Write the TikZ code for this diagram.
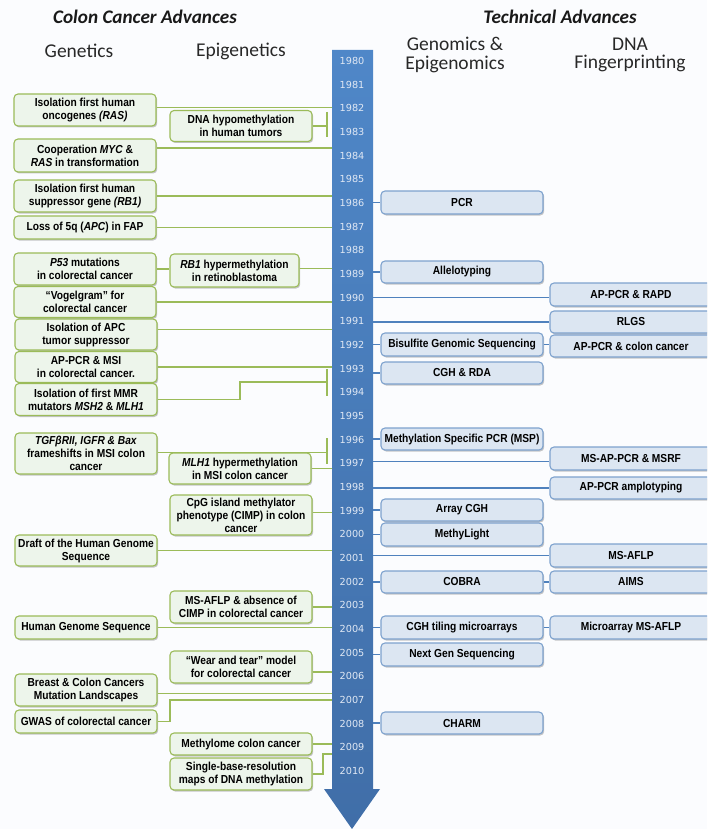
\documentclass[tikz,border=0pt]{standalone}
\usepackage{fontspec}
\usetikzlibrary{shadows}
\newfontfamily\boxfont{Liberation Sans}[FakeStretch=0.88,Ligatures=TeX]
\newfontfamily\hdfont{Carlito}[Ligatures=TeX]
\newfontfamily\yrfont{DejaVu Sans}
\definecolor{bg}{RGB}{251,252,254}
\definecolor{gborder}{RGB}{155,187,89}
\definecolor{gfill}{RGB}{237,245,235}
\definecolor{bborder}{RGB}{126,162,206}
\definecolor{bfill}{RGB}{220,230,242}
\definecolor{blin}{RGB}{79,129,189}
\definecolor{arrtop}{RGB}{79,135,200}
\definecolor{arrbot}{RGB}{64,110,168}
\definecolor{yrcol}{RGB}{224,232,244}
\definecolor{hdcol}{RGB}{25,25,25}
\definecolor{subcol}{RGB}{40,40,40}
\begin{document}
\begin{tikzpicture}[x=1pt,y=-1pt,
  box/.style={rounded corners=4pt, line width=1.1pt, align=center, inner xsep=1pt, inner ysep=0pt,
    font={\boxfont\bfseries\fontsize{11.6}{13}\selectfont}, text=black,
    drop shadow={shadow xshift=1.2pt, shadow yshift=-1.5pt, fill=black, opacity=0.22}},
  gbox/.style={box, draw=gborder, fill=gfill},
  bbox/.style={box, draw=bborder, fill=bfill},
  gcol/.style={gbox, minimum width=142pt},
  ecol/.style={gbox, minimum width=142pt},
  ncol/.style={bbox, minimum width=162pt},
  fcol/.style={bbox, minimum width=162pt},
  gline/.style={draw=gborder, line width=1.3pt},
  bline/.style={draw=blin, line width=1.3pt},
  yr/.style={font={\yrfont\fontsize{9.7}{11}\selectfont}, text=yrcol, inner sep=0pt},
  hd/.style={font={\hdfont\bfseries\itshape\fontsize{19.2}{20}\selectfont}, text=hdcol, inner sep=0pt},
  sub/.style={font={\hdfont\fontsize{19.5}{18.5}\selectfont}, text=subcol, align=center, inner sep=0pt}
]
\useasboundingbox (0,0) rectangle (707,829);
\clip (0,0) rectangle (707,829);
\fill[bg] (0,0) rectangle (707,829);

% headers
\node[hd] (h1) at (145,17) {Colon Cancer Advances};
\node[hd] (h2) at (560,17) {Technical Advances};
\node[sub] (s1) at (79,51) {Genetics};
\node[sub] (s2) at (241,51) {Epigenetics};
\node[sub] (s3) at (455,55) {Genomics \&\\Epigenomics};
\node[sub] (s4) at (630,55) {DNA\\Fingerprinting};

% arrow
\shade[top color=arrtop, bottom color=arrbot] (332,50) -- (373,50) -- (373,789) -- (380,789) -- (352,829) -- (324,789) -- (332,789) -- cycle;
\coordinate (AL) at (332,0);
\coordinate (AR) at (373,0);
\foreach \k in {0,...,30} {
  \pgfmathsetmacro\yy{61+23.67*\k}
  \pgfmathtruncatemacro\yv{1980+\k}
  \node[yr] (y\yv) at (352,\yy) {\yv};
}

% bracket coordinates
\coordinate (t1a) at (327,112); \coordinate (t1b) at (327,137);
\coordinate (t2a) at (327,369); \coordinate (t2b) at (327,396);
\coordinate (t3a) at (327,438); \coordinate (t3b) at (327,464);
\coordinate (k1) at (240,382);
\coordinate (k2) at (170,700);
\coordinate (k3) at (323,754);

% genetics boxes
\node[gcol, minimum height=32pt] (g1) at (85,110) {Isolation first human\\oncogenes \textit{(RAS)}};
\node[gcol, minimum height=33pt] (g2) at (85,155.5) {Cooperation \textit{MYC} \&\\\textit{RAS} in transformation};
\node[gcol, minimum height=32pt] (g3) at (85,196) {Isolation first human\\suppressor gene \textit{(RB1)}};
\node[gcol, minimum height=23pt] (g4) at (85,227.5) {Loss of 5q (\textit{APC}) in FAP};
\node[gcol, minimum height=32pt] (g5) at (85,269) {\textit{P53} mutations\\in colorectal cancer};
\node[gcol, minimum height=31pt] (g6) at (85,302) {“Vogelgram” for\\colorectal cancer};
\node[gcol, minimum height=31pt] (g7) at (86,334.5) {Isolation of APC\\tumor suppressor};
\node[gcol, minimum height=31pt] (g8) at (86,367) {AP-PCR \& MSI\\in colorectal cancer.};
\node[gcol, minimum height=32pt] (g9) at (86,399.5) {Isolation of first MMR\\mutators \textit{MSH2} \& \textit{MLH1}};
\node[gcol, minimum height=41pt] (g10) at (86,453.5) {\textit{TGFβRII, IGFR \& Bax}\\frameshifts in MSI colon\\cancer};
\node[gcol, minimum height=31pt] (g11) at (86,550.5) {Draft of the Human Genome\\Sequence};
\node[gcol, minimum height=23pt] (g12) at (86,627.5) {Human Genome Sequence};
\node[gcol, minimum height=32pt] (g13) at (86,690) {Breast \& Colon Cancers\\Mutation Landscapes};
\node[gcol, minimum height=23pt] (g14) at (86,721.5) {GWAS of colorectal cancer};

% epigenetics boxes
\node[ecol, minimum height=31pt] (e1) at (241,126) {DNA hypomethylation\\in human tumors};
\node[gbox, minimum width=129pt, minimum height=33pt] (e2) at (234.5,270.5) {\textit{RB1} hypermethylation\\in retinoblastoma};
\node[ecol, minimum height=31pt] (e3) at (240,468.5) {\textit{MLH1} hypermethylation\\in MSI colon cancer};
\node[ecol, minimum height=40pt] (e4) at (241,515) {CpG island methylator\\phenotype (CIMP) in colon\\cancer};
\node[ecol, minimum height=32pt] (e5) at (241,607) {MS-AFLP \& absence of\\CIMP in colorectal cancer};
\node[ecol, minimum height=32pt] (e6) at (241,667) {“Wear and tear” model\\for colorectal cancer};
\node[ecol, minimum height=22pt] (e7) at (241,744) {Methylome colon cancer};
\node[ecol, minimum height=32pt] (e8) at (241,774) {Single-base-resolution\\maps of DNA methylation};

% genomics boxes
\node[ncol, minimum height=23pt] (b1) at (462,202.5) {PCR};
\node[ncol, minimum height=22pt] (b2) at (462,272) {Allelotyping};
\node[ncol, minimum height=23pt] (b3) at (462,344.5) {Bisulfite Genomic Sequencing};
\node[ncol, minimum height=22pt] (b4) at (462,373) {CGH \& RDA};
\node[ncol, minimum height=22pt] (b5) at (462,439) {Methylation Specific PCR (MSP)};
\node[ncol, minimum height=22pt] (b6) at (462,510) {Array CGH};
\node[ncol, minimum height=23pt] (b7) at (462,534.5) {MethyLight};
\node[ncol, minimum height=22pt] (b8) at (462,582) {COBRA};
\node[ncol, minimum height=23pt] (b9) at (462,627.5) {CGH tiling microarrays};
\node[ncol, minimum height=23pt] (b10) at (462,654.5) {Next Gen Sequencing};
\node[ncol, minimum height=22pt] (b11) at (462,723) {CHARM};

% DNA fingerprinting boxes
\node[fcol, minimum height=23pt] (d1) at (631,294.5) {AP-PCR \& RAPD};
\node[fcol, minimum height=22pt] (d2) at (631,322) {RLGS};
\node[fcol, minimum height=22pt] (d3) at (631,346) {AP-PCR \& colon cancer};
\node[fcol, minimum height=23pt] (d4) at (631,458.5) {MS-AP-PCR \& MSRF};
\node[fcol, minimum height=22pt] (d5) at (631,488) {AP-PCR amplotyping};
\node[fcol, minimum height=23pt] (d6) at (631,555.5) {MS-AFLP};
\node[fcol, minimum height=22pt] (d7) at (631,582) {AIMS};
\node[fcol, minimum height=23pt] (d8) at (631,627.5) {Microarray MS-AFLP};

% green connectors
\draw[gline] (g1.2) -- (g1.2 -| AL);
\draw[gline] (g2.6) -- (g2.6 -| AL);
\draw[gline] (e1.east) -- (e1.east -| t1a);
\draw[gline] (t1a) -- (t1b);
\draw[gline] (g3.east) -- (g3.east -| AL);
\draw[gline] (g4.east) -- (g4.east -| AL);
\draw[gline] (g5.east) -- (g5.east -| e2.west);
\draw[gline] (e2.2) -- (e2.2 -| AL);
\draw[gline] (g6.east) -- (g6.east -| AL);
\draw[gline] (g7.4) -- (g7.4 -| AL);
\draw[gline] (g8.east) -- (g8.east -| AL);
\draw[gline] (g9.east) -| (k1) -- (k1 -| t2a);
\draw[gline] (t2a) -- (t2b);
\draw[gline] (g10.1) -- (g10.1 -| t3a);
\draw[gline] (t3a) -- (t3b);
\draw[gline] (e3.east) -- (e3.east -| AL);
\draw[gline] (e4.2) -- (e4.2 -| AL);
\draw[gline] (g11.east) -- (g11.east -| AL);
\draw[gline] (e5.east) -- (e5.east -| AL);
\draw[gline] (g12.east) -- (g12.east -| AL);
\draw[gline] (e6.-4) -- (e6.-4 -| AL);
\draw[gline] (g13.-3) -- (g13.-3 -| AL);
\draw[gline] (g14.east) -| (k2) -- (k2 -| AL);
\draw[gline] (e7.east) -- (e7.east -| AL);
\draw[gline] (e8.east) -| (k3) -- (k3 -| AL);

% blue connectors
\draw[bline] (AR |- b1.west) -- (b1.west);
\draw[bline] (AR |- b2.west) -- (b2.west);
\draw[bline] (AR |- d1.182) -- (d1.182);
\draw[bline] (AR |- d2.west) -- (d2.west);
\draw[bline] (AR |- b3.west) -- (b3.west);
\draw[bline] (b3.east) -- (b3.east -| d3.west);
\draw[bline] (AR |- b4.west) -- (b4.west);
\draw[bline] (AR |- b5.west) -- (b5.west);
\draw[bline] (AR |- d4.182) -- (d4.182);
\draw[bline] (AR |- d5.west) -- (d5.west);
\draw[bline] (AR |- b6.west) -- (b6.west);
\draw[bline] (AR |- b7.west) -- (b7.west);
\draw[bline] (AR |- d6.west) -- (d6.west);
\draw[bline] (AR |- b8.west) -- (b8.west);
\draw[bline] (b8.east) -- (b8.east -| d7.west);
\draw[bline] (AR |- b9.west) -- (b9.west);
\draw[bline] (b9.east) -- (b9.east -| d8.west);
\draw[bline] (AR |- b10.west) -- (b10.west);
\draw[bline] (AR |- b11.west) -- (b11.west);
\end{tikzpicture}
\end{document}
